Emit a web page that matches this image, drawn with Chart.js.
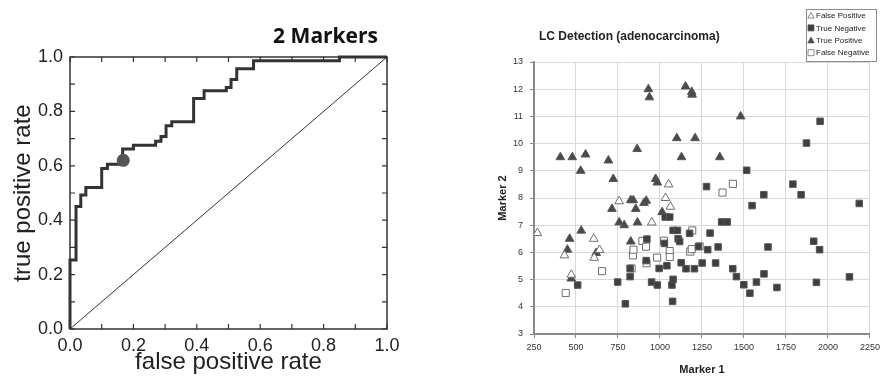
<!DOCTYPE html>
<html>
<head>
<meta charset="utf-8">
<script src="https://cdn.jsdelivr.net/npm/chart.js@4"></script>
<style>
    body { margin: 0; background: #fff; }
    #rocWrap { position: absolute; left: 0; top: 0; width: 420px; height: 377px; }
    #scatterWrap { position: absolute; left: 460px; top: 0; width: 424px; height: 377px; }
</style>
</head>
<body>
<div id="rocWrap"><canvas id="rocChart" width="420" height="377"></canvas></div>
<div id="scatterWrap"><canvas id="scatterChart" width="424" height="377"></canvas></div>
<script>
// ROC curve (step points)
const rocFpr = [0, 0, 0.019, 0.034, 0.05, 0.10, 0.118, 0.166, 0.2, 0.27, 0.287, 0.303, 0.321, 0.39, 0.423, 0.493, 0.508, 0.526, 0.579, 0.85, 1.0];
const rocTpr = [0, 0.254, 0.45, 0.493, 0.52, 0.59, 0.606, 0.662, 0.676, 0.69, 0.708, 0.747, 0.762, 0.847, 0.876, 0.888, 0.917, 0.957, 0.986, 1.0, 1.0];
const cutoffFpr = [0.168];
const cutoffTpr = [0.62];
const chanceFpr = [0, 1];
const chanceTpr = [0, 1];
const rocTicks = [0, 0.2, 0.4, 0.6, 0.8, 1.0];
const rocMinorTicks = [0, 0.1, 0.2, 0.3, 0.4, 0.5, 0.6, 0.7, 0.8, 0.9, 1.0];

// Scatter: Marker 1 (x) / Marker 2 (y)
const fpMarker1 = [270, 431, 472, 606, 608, 640, 757, 951, 1033, 1062, 1051];
const fpMarker2 = [6.71, 5.89, 5.18, 6.5, 5.8, 6.09, 7.88, 7.1, 8.0, 7.68, 8.5];

const tnMarker1 = [510, 748, 794, 822, 822, 922, 918, 950, 984, 995, 1026, 1041, 1031, 1058, 1078, 1104, 1078, 1071, 1075, 1108, 1117, 1126, 1155, 1176, 1205, 1229, 1251, 1284, 1298, 1331, 1346, 1367, 1400, 1433, 1455, 1499, 1535, 1548, 1574, 1618, 1619, 1643, 1696, 1791, 1840, 1915, 1950, 1931, 2128, 2186, 1277, 1516, 1872, 1953];
const tnMarker2 = [4.8, 4.91, 4.11, 5.11, 5.41, 6.49, 5.7, 4.91, 4.8, 5.41, 6.33, 5.51, 7.3, 7.3, 6.81, 6.81, 5.01, 4.8, 4.2, 6.5, 6.4, 5.62, 5.4, 6.7, 5.4, 6.22, 5.61, 6.1, 6.71, 5.61, 6.2, 7.12, 7.12, 5.4, 5.11, 4.81, 4.5, 7.72, 4.91, 8.12, 5.21, 6.2, 4.71, 8.51, 8.12, 6.41, 6.1, 4.9, 5.1, 7.8, 8.42, 9.02, 10.02, 10.82];

const tpMarker1 = [407, 478, 528, 557, 693, 722, 864, 931, 937, 974, 984, 1100, 1128, 1152, 1189, 1191, 1209, 1356, 1480, 714, 757, 787, 826, 841, 856, 866, 905, 918, 1013, 531, 462, 449, 472, 826, 620];
const tpMarker2 = [9.5, 9.5, 9.0, 9.6, 9.38, 8.7, 9.8, 12.0, 11.7, 8.7, 8.57, 10.2, 9.5, 12.1, 11.9, 11.8, 10.2, 9.5, 11.0, 7.6, 7.1, 7.0, 7.92, 7.92, 7.6, 7.1, 7.82, 7.9, 7.48, 6.8, 6.5, 6.1, 5.04, 6.4, 5.98];

const fnMarker1 = [439, 655, 831, 839, 842, 895, 917, 920, 983, 1024, 1058, 1058, 1180, 1189, 1192, 1236, 1372, 1434];
const fnMarker2 = [4.51, 5.31, 5.41, 5.89, 6.1, 6.42, 6.21, 5.6, 5.81, 6.43, 6.05, 5.83, 6.03, 6.12, 6.81, 6.22, 8.2, 8.52];

const marker1Ticks = [250, 500, 750, 1000, 1250, 1500, 1750, 2000, 2250];
const marker2Ticks = [3, 4, 5, 6, 7, 8, 9, 10, 11, 12, 13];

const toPoints = (xs, ys) => xs.map((x, i) => ({ x: x, y: ys[i] }));

// Free-standing panel title
const panelTitle = {
    id: 'panelTitle',
    afterDraw(chart, args, opts) {
        const ctx = chart.ctx;
        ctx.save();
        ctx.font = opts.font;
        ctx.fillStyle = opts.color;
        ctx.textAlign = opts.align;
        ctx.textBaseline = 'alphabetic';
        ctx.fillText(opts.text, opts.x, opts.y);
        ctx.restore();
    }
};

// Box round the ROC plot with inward ticks on every side
const rocFrame = {
    id: 'rocFrame',
    beforeDatasetsDraw(chart) {
        const ctx = chart.ctx;
        const a = chart.chartArea;
        const xs = chart.scales.x, ys = chart.scales.y;
        const len = 5;
        ctx.save();
        ctx.strokeStyle = '#333';
        ctx.lineWidth = 1.5;
        ctx.strokeRect(a.left, a.top, a.right - a.left, a.bottom - a.top);
        ctx.lineWidth = 1.2;
        ctx.beginPath();
        rocMinorTicks.forEach(v => {
            const px = xs.getPixelForValue(v);
            ctx.moveTo(px, a.bottom); ctx.lineTo(px, a.bottom - len);
            ctx.moveTo(px, a.top); ctx.lineTo(px, a.top + len);
            const py = ys.getPixelForValue(v);
            ctx.moveTo(a.left, py); ctx.lineTo(a.left + len, py);
            ctx.moveTo(a.right, py); ctx.lineTo(a.right - len, py);
        });
        ctx.stroke();
        ctx.restore();
    }
};

// Boxed legend in the top right corner
const boxLegend = {
    id: 'boxLegend',
    afterDraw(chart, args, opts) {
        const ctx = chart.ctx;
        ctx.save();
        ctx.fillStyle = '#fff';
        ctx.fillRect(opts.x, opts.y, opts.w, opts.h);
        ctx.strokeStyle = '#8c8c8c';
        ctx.lineWidth = 1;
        ctx.strokeRect(opts.x + 0.5, opts.y + 0.5, opts.w, opts.h);
        ctx.font = '8px "Liberation Sans", Arial, sans-serif';
        ctx.textBaseline = 'middle';
        chart.data.datasets.forEach((ds, i) => {
            const cy = opts.y + 6.5 + i * 12.4;
            const cx = opts.x + 5;
            ctx.fillStyle = ds.backgroundColor;
            ctx.strokeStyle = ds.borderColor;
            ctx.lineWidth = 0.8;
            ctx.beginPath();
            if (ds.pointStyle === 'triangle') {
                ctx.moveTo(cx, cy - 3.2);
                ctx.lineTo(cx + 3.2, cy + 2.6);
                ctx.lineTo(cx - 3.2, cy + 2.6);
                ctx.closePath();
            } else {
                ctx.rect(cx - 3, cy - 3, 6, 6);
            }
            ctx.fill();
            ctx.stroke();
            ctx.fillStyle = '#222';
            ctx.fillText(ds.label, cx + 5, cy + 0.5);
        });
        ctx.restore();
    }
};

// 1. ROC curve
new Chart(document.getElementById('rocChart').getContext('2d'), {
    type: 'line',
    data: {
        datasets: [
            {
                label: 'cutoff',
                type: 'scatter',
                data: toPoints(cutoffFpr, cutoffTpr),
                pointRadius: 6.5,
                pointBackgroundColor: '#555',
                pointBorderWidth: 0,
                clip: false
            },
            {
                label: 'ROC',
                data: toPoints(rocFpr, rocTpr),
                stepped: 'before',
                borderColor: '#333',
                borderWidth: 3,
                pointRadius: 0,
                fill: false,
                clip: false
            },
            {
                label: 'chance',
                data: toPoints(chanceFpr, chanceTpr),
                borderColor: '#333',
                borderWidth: 1,
                pointRadius: 0,
                fill: false
            }
        ]
    },
    options: {
        responsive: false,
        animation: false,
        layout: { padding: { top: 57, right: 33, left: 0, bottom: 0 } },
        scales: {
            x: {
                type: 'linear',
                min: 0,
                max: 1,
                afterBuildTicks: s => { s.ticks = rocTicks.map(v => ({ value: v })); },
                afterFit: s => { s.height = 48; },
                grid: { display: false, drawTicks: false },
                border: { display: false },
                ticks: {
                    padding: 6,
                    color: '#222',
                    font: { family: '"Liberation Sans", Arial, sans-serif', size: 18 },
                    maxRotation: 0,
                    callback: v => v.toFixed(1)
                },
                title: {
                    display: true,
                    text: 'false positive rate',
                    color: '#222',
                    font: { family: '"Liberation Sans", Arial, sans-serif', size: 24 },
                    padding: { top: -2, bottom: 0 }
                }
            },
            y: {
                type: 'linear',
                min: 0,
                max: 1,
                afterBuildTicks: s => { s.ticks = rocTicks.map(v => ({ value: v })); },
                afterFit: s => { s.width = 70; },
                grid: { display: false, drawTicks: false },
                border: { display: false },
                ticks: {
                    padding: 7,
                    color: '#222',
                    font: { family: '"Liberation Sans", Arial, sans-serif', size: 18 },
                    callback: v => v.toFixed(1)
                },
                title: {
                    display: true,
                    text: 'true positive rate',
                    color: '#222',
                    font: { family: '"Liberation Sans", Arial, sans-serif', size: 24 },
                    padding: { top: 9, bottom: 0 }
                }
            }
        },
        plugins: {
            legend: { display: false },
            tooltip: { enabled: false },
            panelTitle: {
                text: '2 Markers',
                font: 'bold 21px "Open Sans", sans-serif',
                color: '#111',
                align: 'right',
                x: 378,
                y: 43
            }
        }
    },
    plugins: [rocFrame, panelTitle]
});

// 2. LC Detection scatter
const gridGrey = '#d9d9d9';
new Chart(document.getElementById('scatterChart').getContext('2d'), {
    type: 'scatter',
    data: {
        datasets: [
            {
                label: 'False Positive',
                data: toPoints(fpMarker1, fpMarker2),
                pointStyle: 'triangle',
                pointRadius: 5,
                backgroundColor: '#ffffff',
                borderColor: '#6e6e6e',
                borderWidth: 1
            },
            {
                label: 'True Negative',
                data: toPoints(tnMarker1, tnMarker2),
                pointStyle: 'rect',
                pointRadius: 4.6,
                backgroundColor: '#3f3f3f',
                borderColor: '#555555',
                borderWidth: 1
            },
            {
                label: 'True Positive',
                data: toPoints(tpMarker1, tpMarker2),
                pointStyle: 'triangle',
                pointRadius: 5,
                backgroundColor: '#4a4a4a',
                borderColor: '#555555',
                borderWidth: 1
            },
            {
                label: 'False Negative',
                data: toPoints(fnMarker1, fnMarker2),
                pointStyle: 'rect',
                pointRadius: 5,
                backgroundColor: '#ffffff',
                borderColor: '#6e6e6e',
                borderWidth: 1
            }
        ]
    },
    options: {
        responsive: false,
        animation: false,
        layout: { padding: { top: 62, right: 11, left: 0, bottom: 0 } },
        scales: {
            x: {
                type: 'linear',
                min: 250,
                max: 2250,
                afterBuildTicks: s => { s.ticks = marker1Ticks.map(v => ({ value: v })); },
                afterFit: s => { s.height = 43; },
                grid: { color: gridGrey, tickColor: '#888', tickLength: 4 },
                border: { color: '#8a8a8a', width: 2 },
                ticks: {
                    padding: 4,
                    color: '#333',
                    maxRotation: 0,
                    font: { family: '"Liberation Sans", Arial, sans-serif', size: 9 },
                    callback: v => String(v)
                },
                title: {
                    display: true,
                    text: 'Marker 1',
                    color: '#222',
                    font: { family: '"Liberation Sans", Arial, sans-serif', size: 11, weight: 'bold' },
                    padding: { top: 3, bottom: 0 }
                }
            },
            y: {
                type: 'linear',
                min: 3,
                max: 13,
                afterBuildTicks: s => { s.ticks = marker2Ticks.map(v => ({ value: v })); },
                afterFit: s => { s.width = 74; },
                grid: { color: gridGrey, tickColor: '#888', tickLength: 4 },
                border: { color: '#8a8a8a', width: 2 },
                ticks: {
                    padding: 7,
                    color: '#333',
                    font: { family: '"Liberation Sans", Arial, sans-serif', size: 9 },
                    callback: v => String(v)
                },
                title: {
                    display: true,
                    text: 'Marker 2',
                    color: '#222',
                    font: { family: '"Liberation Sans", Arial, sans-serif', size: 11, weight: 'bold' },
                    padding: { top: 36, bottom: 0 }
                }
            }
        },
        plugins: {
            legend: { display: false },
            tooltip: { enabled: false },
            panelTitle: {
                text: 'LC Detection (adenocarcinoma)',
                font: 'bold 12px "Liberation Sans", Arial, sans-serif',
                color: '#222',
                align: 'left',
                x: 79,
                y: 40
            },
            boxLegend: { x: 346, y: 9, w: 70, h: 52 }
        }
    },
    plugins: [panelTitle, boxLegend]
});
</script>
</body>
</html>
